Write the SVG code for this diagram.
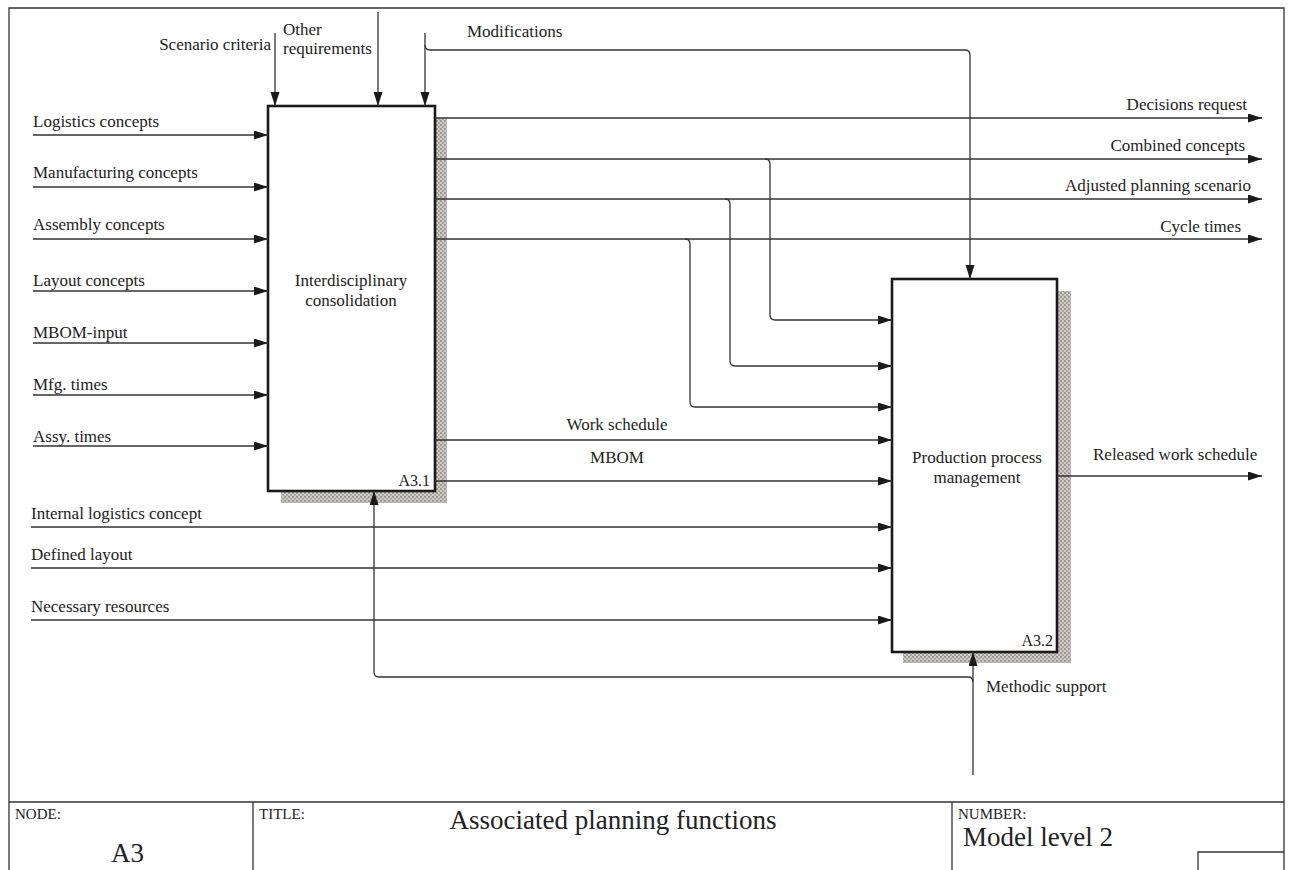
<svg xmlns="http://www.w3.org/2000/svg" width="1290" height="870" viewBox="0 0 1290 870">
  <style>
    .frame { fill: none; stroke: #333; stroke-width: 1.3; }
    .box { fill: #fff; stroke: #1a1a1a; stroke-width: 2.6; }
    .shadow { fill: url(#grain); }
    .wire { fill: none; stroke: #333; stroke-width: 1.3; }
    .arr { marker-end: url(#head); }
    text { font-family: "Liberation Serif", "DejaVu Serif", serif; fill: #222; }
    .lbl { font-size: 17px; }
    .tag { font-size: 16px; }
    .small { font-size: 15px; }
    .big { font-size: 27px; }
  </style>
  <defs>
    <marker id="head" markerUnits="userSpaceOnUse" markerWidth="15" markerHeight="10" refX="14" refY="4.5" orient="auto">
      <path d="M0,0 L14,4.5 L0,9 z" fill="#1a1a1a"/>
    </marker>
    <pattern id="grain" width="4" height="4" patternUnits="userSpaceOnUse">
      <rect width="4" height="4" fill="#cdc9c3"/>
      <rect x="0" y="0" width="2" height="2" fill="#9d9994"/>
      <rect x="2" y="2" width="2" height="2" fill="#aaa6a0"/>
    </pattern>
  </defs>

  <!-- sheet frame and title block -->
  <g id="frame">
    <path class="frame" d="M9,870 V8 H1284 V870"/>
    <path class="frame" d="M9,802 H1284 M253,802 V870 M952,802 V870 M1198,870 V852 H1284"/>
    <text class="small" x="15" y="819">NODE:</text>
    <text class="big" x="111" y="862">A3</text>
    <text class="small" x="259" y="819">TITLE:</text>
    <text class="big" x="613" y="829" text-anchor="middle">Associated planning functions</text>
    <text class="small" x="958" y="819">NUMBER:</text>
    <text class="big" x="963" y="846">Model level 2</text>
  </g>

  <!-- activity A3.1 -->
  <g id="node-a31">
    <path class="shadow" d="M435,118 H447 V503 H281 V491 H435 z"/>
    <rect class="box" x="268" y="106" width="167" height="385"/>
    <text class="lbl" x="351" y="286" text-anchor="middle">Interdisciplinary</text>
    <text class="lbl" x="351" y="306" text-anchor="middle">consolidation</text>
    <text class="tag" x="430" y="486" text-anchor="end">A3.1</text>
  </g>

  <!-- activity A3.2 -->
  <g id="node-a32">
    <path class="shadow" d="M1057,291 H1071 V663 H903 V652 H1057 z"/>
    <rect class="box" x="892" y="279" width="165" height="373"/>
    <text class="lbl" x="977" y="463" text-anchor="middle">Production process</text>
    <text class="lbl" x="977" y="483" text-anchor="middle">management</text>
    <text class="tag" x="1053" y="646" text-anchor="end">A3.2</text>
  </g>

  <!-- ICOM arrows -->
  <g id="connectors">
    <!-- inputs to A3.1 -->
    <path class="wire arr" d="M33,135 H268"/>
    <path class="wire arr" d="M33,187 H268"/>
    <path class="wire arr" d="M33,239 H268"/>
    <path class="wire arr" d="M33,291 H268"/>
    <path class="wire arr" d="M33,343 H268"/>
    <path class="wire arr" d="M33,395 H268"/>
    <path class="wire arr" d="M33,446 H268"/>
    <!-- controls to A3.1 -->
    <path class="wire arr" d="M275,33 V106"/>
    <path class="wire arr" d="M378,12 V106"/>
    <path class="wire arr" d="M425,33 V106"/>
    <path class="wire arr" d="M425,45 Q425,50 430,50 H965 Q970,50 970,55 V279"/>
    <!-- outputs of A3.1 -->
    <path class="wire arr" d="M435,118 H1262"/>
    <path class="wire arr" d="M435,159 H1262"/>
    <path class="wire arr" d="M435,199 H1262"/>
    <path class="wire arr" d="M435,239 H1262"/>
    <path class="wire arr" d="M765,159 Q770,159 770,164 V315 Q770,320 775,320 H892"/>
    <path class="wire arr" d="M725,199 Q730,199 730,204 V361 Q730,366 735,366 H892"/>
    <path class="wire arr" d="M685,239 Q690,239 690,244 V402 Q690,407 695,407 H892"/>
    <path class="wire arr" d="M435,440 H892"/>
    <path class="wire arr" d="M435,481 H892"/>
    <!-- inputs to A3.2 -->
    <path class="wire arr" d="M31,527 H892"/>
    <path class="wire arr" d="M31,568 H892"/>
    <path class="wire arr" d="M31,620 H892"/>
    <!-- output of A3.2 -->
    <path class="wire arr" d="M1057,476 H1262"/>
    <!-- mechanism -->
    <path class="wire arr" d="M973,775 V652"/>
    <path class="wire arr" d="M973,682 Q973,677 968,677 H379 Q374,677 374,672 V491"/>
  </g>

  <!-- arrow labels -->
  <g id="labels">
    <text class="lbl" x="33" y="127">Logistics concepts</text>
    <text class="lbl" x="33" y="178">Manufacturing concepts</text>
    <text class="lbl" x="33" y="230">Assembly concepts</text>
    <text class="lbl" x="33" y="286">Layout concepts</text>
    <text class="lbl" x="33" y="338">MBOM-input</text>
    <text class="lbl" x="33" y="390">Mfg. times</text>
    <text class="lbl" x="33" y="442">Assy. times</text>
    <text class="lbl" x="271" y="50" text-anchor="end">Scenario criteria</text>
    <text class="lbl" x="283" y="35">Other</text>
    <text class="lbl" x="283" y="54">requirements</text>
    <text class="lbl" x="467" y="37">Modifications</text>
    <text class="lbl" x="1247" y="110" text-anchor="end">Decisions request</text>
    <text class="lbl" x="1245" y="151" text-anchor="end">Combined concepts</text>
    <text class="lbl" x="1251" y="191" text-anchor="end">Adjusted planning scenario</text>
    <text class="lbl" x="1241" y="232" text-anchor="end">Cycle times</text>
    <text class="lbl" x="617" y="430" text-anchor="middle">Work schedule</text>
    <text class="lbl" x="617" y="463" text-anchor="middle">MBOM</text>
    <text class="lbl" x="31" y="519">Internal logistics concept</text>
    <text class="lbl" x="31" y="560">Defined layout</text>
    <text class="lbl" x="31" y="612">Necessary resources</text>
    <text class="lbl" x="1093" y="460">Released work schedule</text>
    <text class="lbl" x="986" y="692">Methodic support</text>
  </g>
</svg>
